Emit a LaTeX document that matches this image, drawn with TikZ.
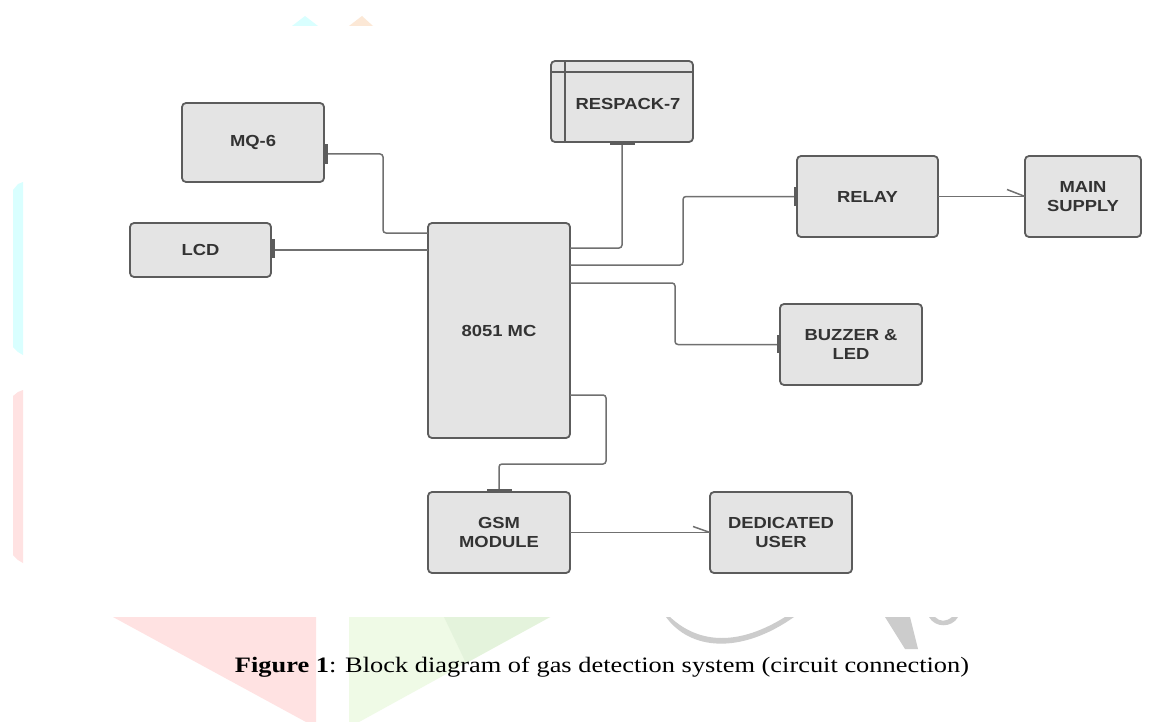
\documentclass[tikz,border=0pt]{standalone}
\usepackage{fontspec}
\setmainfont{Liberation Serif}
\newfontfamily\boxfont[FakeStretch=1.15]{Liberation Sans}
\newfontfamily\capfont[FakeStretch=1.2]{Liberation Serif}
\definecolor{boxfill}{HTML}{E4E4E4}
\definecolor{boxline}{HTML}{5C5C5C}
\definecolor{wirec}{HTML}{707070}
\definecolor{txtc}{HTML}{333333}
\definecolor{wmcyan}{HTML}{D9FFFF}
\definecolor{wmpink}{HTML}{FFE2E2}
\definecolor{wmgreen}{HTML}{EFFAE6}
\definecolor{wmgreen2}{HTML}{E4F3DC}
\definecolor{wmgrey}{HTML}{CCCCCC}
\definecolor{wmpeach}{HTML}{FCE8D6}
\tikzset{
  blk/.style={draw=boxline, fill=boxfill, line width=1.8pt, rounded corners=4pt,
    inner sep=0pt, outer sep=0pt, align=center, text=txtc,
    font=\boxfont\bfseries\fontsize{16}{19}\selectfont},
  wire/.style={draw=wirec, line width=1.5pt, rounded corners=3pt},
  tab/.style={fill=boxline, draw=none}
}
\begin{document}
\begin{tikzpicture}[x=1pt,y=-1pt]
\fill[white] (0,0) rectangle (1158,722);
\useasboundingbox (0,0) rectangle (1158,722);
% faint watermark
\fill[wmcyan] (13,190) -- (18,184) -- (23,182) -- (23,355) -- (18,352) -- (13,347) -- cycle;
\fill[wmpink] (13,396) -- (18,392) -- (23,390) -- (23,563) -- (18,560) -- (13,555) -- cycle;
\fill[wmcyan] (292,26) -- (305,16) -- (318,26) -- cycle;
\fill[wmpeach] (349,26) -- (362,16) -- (373,26) -- cycle;
\fill[wmpink] (113,617) -- (316,617) -- (316,722) -- (306,722) -- cycle;
\fill[wmgreen] (349,617) -- (550,617) -- (359,722) -- (349,722) -- cycle;
\fill[wmgreen2] (444,617) -- (550,617) -- (466,663) -- cycle;
\fill[wmgrey] (666,617) .. controls (690,650) and (740,655) .. (794,617) -- (785,617) .. controls (740,645) and (700,645) .. (670,617) -- cycle;
\fill[wmgrey] (885,617) -- (910,617) -- (918,649) -- (905,649) -- cycle;
\fill[wmgrey] (929,617) .. controls (935,628) and (952,628) .. (958,617) -- (952,617) .. controls (946,622) and (940,622) .. (935,617) -- cycle;
% blocks
\node[blk, minimum width=142pt, minimum height=79pt] (mq) at (253,142.5) {MQ-6};
\node[blk, minimum width=141pt, minimum height=54pt] (lcd) at (200.5,250) {LCD};
\node[blk, minimum width=142pt, minimum height=215pt] (mc) at (499,330.5) {8051 MC};
\node[blk, minimum width=142pt, minimum height=81pt] (res) at (622,101.5) {};
\node[blk, minimum width=141pt, minimum height=81pt] (relay) at (867.5,196.5) {RELAY};
\node[blk, minimum width=116pt, minimum height=81pt] (main) at (1083,196.5) {MAIN\\SUPPLY};
\node[blk, minimum width=142pt, minimum height=81pt] (buzz) at (851,344.5) {BUZZER \&\\LED};
\node[blk, minimum width=142pt, minimum height=81pt] (gsm) at (499,532.5) {GSM\\MODULE};
\node[blk, minimum width=142pt, minimum height=81pt] (user) at (781,532.5) {DEDICATED\\USER};
% respack inner lines and label
\draw[boxline, line width=1.8pt] ([xshift=14pt]res.north west) -- ([xshift=14pt]res.south west);
\draw[boxline, line width=1.8pt] ([yshift=-11pt]res.north west) -- ([yshift=-11pt]res.north east);
\node[text=txtc, font=\boxfont\bfseries\fontsize{16}{19}\selectfont] (reslbl) at (628,104) {RESPACK-7};
% wires
\draw[wire] ([yshift=-11.5pt]mq.east) -- ++(59,0) |- ([yshift=97.5pt]mc.west);
\draw[wire] (lcd.east) -- (lcd.east -| mc.west);
\draw[wire] (res.south) |- ([yshift=82.5pt]mc.east);
\draw[wire] ([yshift=65.5pt]mc.east) -- ++(113,0) |- (relay.west);
\draw[wire] ([yshift=47.5pt]mc.east) -- ++(105,0) |- (buzz.west);
\draw[wire] ([yshift=-64.5pt]mc.east) -- ++(36,0) -- ++(0,69) -| (gsm.north);
\draw[wire] (relay.east) -- (main.west);
\draw[wire] (main.west) -- ++(-18,-7);
\draw[wire] (gsm.east) -- (user.west);
\draw[wire] (user.west) -- ++(-17,-6);
% port tabs
\fill[tab] ([yshift=-1.5pt]mq.east) rectangle ++(3.5,20);
\fill[tab] ([yshift=11pt]lcd.east) rectangle ++(3.5,19);
\fill[tab] ([xshift=-12pt]res.south) rectangle ++(25,3.5);
\fill[tab] ([yshift=9.5pt]relay.west) rectangle ++(-3.5,19);
\fill[tab] ([yshift=9.5pt]buzz.west) rectangle ++(-3.5,18);
\fill[tab] ([xshift=-12pt]gsm.north) rectangle ++(25,-3.5);
% caption
\node[text=black, font=\capfont\fontsize{22}{26}\selectfont] (cap) at (602,667) {\textbf{Figure 1}: Block diagram of gas detection system (circuit connection)};
\end{tikzpicture}
\end{document}
